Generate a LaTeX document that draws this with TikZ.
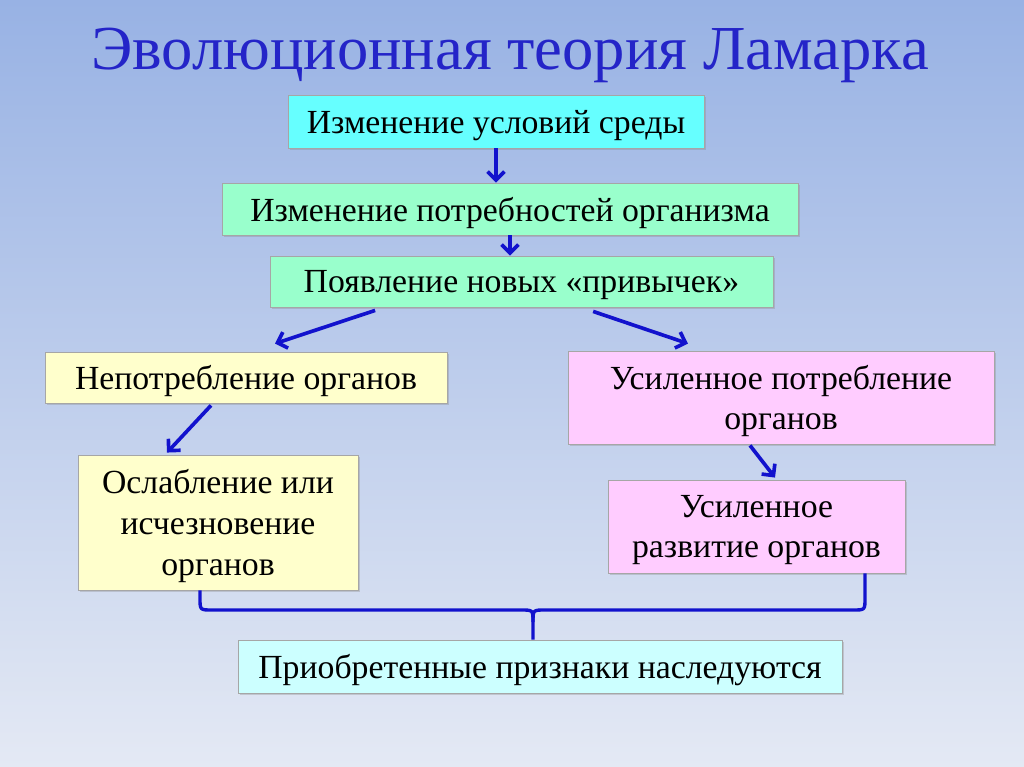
\documentclass[tikz,border=0pt]{standalone}
\usepackage{fontspec}
\setmainfont{Liberation Serif}
\usetikzlibrary{positioning,shadows,arrows.meta}
\definecolor{titleblue}{RGB}{36,36,200}
\definecolor{linkblue}{RGB}{18,18,205}
\definecolor{bgtop}{RGB}{152,178,228}
\definecolor{bgbottom}{RGB}{228,233,244}
\definecolor{cyanfill}{RGB}{102,255,255}
\definecolor{greenfill}{RGB}{153,255,204}
\definecolor{yellowfill}{RGB}{255,255,204}
\definecolor{pinkfill}{RGB}{255,204,255}
\definecolor{palefill}{RGB}{204,255,255}
\begin{document}
\begin{tikzpicture}[x=0.025cm,y=-0.025cm,
    box/.style={draw=black!35,line width=0.6pt,align=center,inner sep=0pt,text depth=0pt,
      font=\fontsize{24}{29}\selectfont,
      drop shadow={shadow xshift=1.5pt,shadow yshift=-1.5pt,opacity=0.3}},
    link/.style={draw=linkblue,line width=2.6pt,-{Straight Barb[length=6pt,width=12pt]}},
    brace/.style={draw=linkblue,line width=2.4pt,line join=round}]
    % Background
    \shade[top color=bgtop,bottom color=bgbottom] (0,0) rectangle (1024,767);
    \useasboundingbox (0,0) rectangle (1024,767);

    % Title
    \node[anchor=center,font=\fontsize{44.5}{50}\selectfont,text=titleblue] (title) at (510,55) {Эволюционная теория Ламарка};

    % Chain of boxes
    \node[box,fill=cyanfill,minimum width=10.4cm,minimum height=1.325cm] (env) at (496,121.5) {Изменение условий среды};
    \node[box,fill=greenfill,minimum width=14.4cm,minimum height=1.3cm] (needs) at (510,209) {Изменение потребностей организма};
    \node[box,fill=greenfill,minimum width=12.575cm,minimum height=1.275cm] (habits) at (521.5,281.5) {Появление новых «привычек»};
    \node[box,fill=yellowfill,minimum width=10.05cm,minimum height=1.275cm] (disuse) at (246,377.5) {Непотребление органов};
    \node[box,fill=pinkfill,minimum width=10.65cm,minimum height=2.325cm] (use) at (781,397.5) {Усиленное потребление\\органов};
    \node[box,fill=yellowfill,minimum width=7cm,minimum height=3.375cm] (weak) at (218,522.5) {Ослабление или\\исчезновение\\органов};
    \node[box,fill=pinkfill,minimum width=7.425cm,minimum height=2.325cm] (grow) at (756.5,526.5) {Усиленное\\развитие органов};
    \node[box,fill=palefill,minimum width=15.1cm,minimum height=1.325cm] (inherit) at (540,666.5) {Приобретенные признаки наследуются};

    % Arrows
    \draw[link] (env.south) -- (env.south |- needs.north);
    \draw[link] (needs.south) -- (needs.south |- habits.north);
    \draw[link] ([xshift=-3.66cm,yshift=-0.075cm]habits.south) -- ([xshift=0.725cm,yshift=0.2cm]disuse.north);
    \draw[link] ([xshift=1.79cm,yshift=-0.1cm]habits.south) -- ([xshift=-2.325cm,yshift=0.175cm]use.north);
    \draw[link] ([xshift=-0.875cm,yshift=-0.05cm]disuse.south) -- ([xshift=-1.275cm,yshift=0.05cm]weak.north);
    \draw[link] ([xshift=-0.775cm,yshift=-0.025cm]use.south) -- ([xshift=0.4625cm,yshift=0.05cm]grow.north);

    % Brace joining both branches
    \coordinate (bl) at ([xshift=-0.45cm]weak.south);
    \coordinate (br) at ([xshift=2.7125cm]grow.south);
    \coordinate (bc) at ([xshift=-0.175cm]inherit.north);
    \draw[brace] (bl) -- (200,598) .. controls (200,610) .. (212,610) -- (521,610)
      .. controls (533,610) .. (533,622) -- (bc);
    \draw[brace] (533,622) .. controls (533,610) .. (545,610) -- (853,610)
      .. controls (865,610) .. (865,598) -- (br);
\end{tikzpicture}
\end{document}
